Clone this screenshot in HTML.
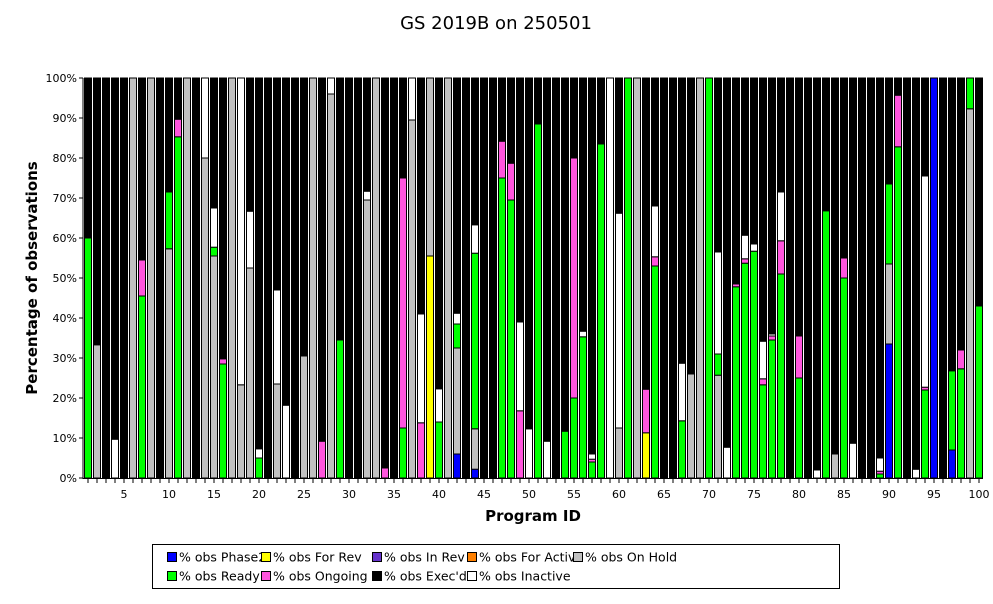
<!DOCTYPE html>
<html><head><meta charset="utf-8"><style>
body{margin:0;background:#fff;width:993px;height:600px;overflow:hidden;font-family:"DejaVu Sans","Liberation Sans",sans-serif}
</style></head><body>
<svg id="chart" width="993" height="600" xmlns="http://www.w3.org/2000/svg">
<text x="496" y="29" text-anchor="middle" font-size="18" font-family="DejaVu Sans, sans-serif">GS 2019B on 250501</text>
<g id="plot"></g>
<g id="axes"></g>
<text transform="translate(37,278) rotate(-90)" text-anchor="middle" font-size="15" font-weight="bold">Percentage of observations</text>
<text x="533" y="521" text-anchor="middle" font-size="15" font-weight="bold">Program ID</text>
<g id="legend"></g>
</svg>
<script>
// segment values (percent) per program, stacked bottom-up; Exec'd fills the remainder to 100
const programs = Array.from({length:100},(_,i)=>i+1);
const phase2 =  [0,0,0,0,0,0,0,0,0,0, 0,0,0,0,0,0,0,0,0,0, 0,0,0,0,0,0,0,0,0,0, 0,0,0,0,0,0,0,0,0,0, 0,6,0,2.2,0,0,0,0,0,0, 0,0,0,0,0,0,0,0,0,0, 0,0,0,0,0,0,0,0,0,0, 0,0,0,0,0,0,0,0,0,0, 0,0,0,0,0,0,0,0,0,33.5, 0,0,0,0,100,0,7,0,0,0];
const forRev =  [0,0,0,0,0,0,0,0,0,0, 0,0,0,0,0,0,0,0,0,0, 0,0,0,0,0,0,0,0,0,0, 0,0,0,0,0,0,0,0,55.5,0, 0,0,0,0,0,0,0,0,0,0, 0,0,0,0,0,0,0,0,0,0, 0,0,11.3,0,0,0,0,0,0,0, 0,0,0,0,0,0,0,0,0,0, 0,0,0,0,0,0,0,0,0,0, 0,0,0,0,0,0,0,0,0,0];
const inRev = new Array(100).fill(0);
const forActiv = new Array(100).fill(0);
const onHold =  [0,33.3,0,0,0,100,0,100,0,57.3, 0,100,0,80,55.5,0,100,23.3,52.5,0, 0,23.5,0,0,30.5,100,0,96,0,0, 0,69.5,100,0,0,0,89.5,0,44.5,0, 100,26.5,0,10.1,0,0,0,0,0,0, 0,0,0,0,0,0,0,0,0,12.5, 0,100,0,0,0,0,0,26,100,0, 25.7,0,0,0,0,0,0,0,0,0, 0,0,0,6,0,0,0,0,0,20, 0,0,0,0,0,0,0,0,92.3,0];
const ready =   [60,0,0,0,0,0,45.5,0,0,14.2, 85.3,0,0,0,2.2,28.5,0,0,0,5, 0,0,0,0,0,0,0,0,34.5,0, 0,0,0,0,0,12.5,0,0,0,14, 0,6,0,43.9,0,0,75,69.5,0,0, 88.5,0,0,11.7,20,35.3,4,83.5,0,0, 100,0,0,53,0,0,14.3,0,0,100, 5.3,0,47.8,53.7,56.7,23.3,34.5,51,0,25, 0,0,66.8,0,50,0,0,0,1,20, 82.8,0,0,22,0,0,19.8,27.3,7.7,43];
const ongoing = [0,0,0,0,0,0,9,0,0,0, 4.4,0,0,0,0,1.3,0,0,0,0, 0,0,0,0,0,0,9.2,0,0,0, 0,0,0,2.5,0,62.5,0,13.8,0,0, 0,0,0,0,0,0,9.2,9.2,16.8,0, 0,0,0,0,60,0,0.7,0,0,0, 0,0,10.9,2.3,0,0,0,0,0,0, 0,0,0.7,1.1,0,1.5,1,8.3,0,10.5, 0,0,0,0,5,0,0,0,0.7,0, 12.9,0,0,0.7,0,0,0,4.7,0,0];
const inactive =[0,0,0,9.7,0,0,0,0,0,0, 0,0,0,20,9.8,0,0,76.7,14.2,2.3, 0,23.5,18.2,0,0,0,0,4,0,0, 0,2.2,0,0,0,0,10.5,27.2,0,8.3, 0,2.7,0,7.1,0,0,0,0,22.2,12.3, 0,9.2,0,0,0,1.4,1.3,0,100,53.7, 0,0,0,12.7,0,0,14.4,0,0,0, 25.5,7.7,0,5.9,1.8,9.4,0.5,12.2,0,0, 0,2,0,0,0,8.7,0,0,3.3,0, 0,0,2.2,52.8,0,0,0,0,0,0];
const yTicks = [0,10,20,30,40,50,60,70,80,90,100];
const xLabels = [5,10,15,20,25,30,35,40,45,50,55,60,65,70,75,80,85,90,95,100];
const seriesNames = ["% obs Phase2","% obs For Rev","% obs In Rev","% obs For Activ","% obs On Hold","% obs Ready","% obs Ongoing","% obs Exec'd","% obs Inactive"];

const NS="http://www.w3.org/2000/svg";
const X0=84, PITCH=9, BW=8, Y0=478, Y1=78;
const yScale=v=>Y0-(Y0-Y1)*v/100;
const xScale=p=>X0+(p-1)*PITCH;
function mk(tag,attrs,parent){const e=document.createElementNS(NS,tag);for(const k in attrs)e.setAttribute(k,attrs[k]);parent.appendChild(e);return e;}
const plot=document.getElementById('plot'), axes=document.getElementById('axes'), legend=document.getElementById('legend');
const cols={phase2:"#0000ff",forRev:"#ffff00",inRev:"#6633cc",forActiv:"#ff8000",onHold:"#c0c0c0",ready:"#00ff00",ongoing:"#ff55dd",execd:"#000000",inactive:"#ffffff"};
const bg=mk('rect',{x:83,y:Y1,width:900,height:400,fill:'#fff'},plot);


programs.forEach((p,i)=>{
  const vals=[["phase2",phase2[i]],["forRev",forRev[i]],["inRev",inRev[i]],["forActiv",forActiv[i]],["onHold",onHold[i]],["ready",ready[i]],["ongoing",ongoing[i]],["inactive",inactive[i]]];
  const sumOther=vals.reduce((a,b)=>a+b[1],0)-inactive[i];
  const ex=Math.max(0,100-sumOther-inactive[i]);
  const order=[...vals.slice(0,7),["inactive",inactive[i]],["execd",ex]];
  let acc=0;
  order.forEach(([k,v])=>{
    if(v<=0)return;
    const yt=yScale(acc+v), yb=yScale(acc);
    const r=mk('rect',{x:xScale(p)+0.5,y:yt,width:BW-1,height:Math.max(0.5,yb-yt),fill:cols[k],stroke:'#000','stroke-width':1},plot);
    
    
    acc+=v;
  });
});
mk('line',{x1:83,y1:Y1,x2:83,y2:Y0+1,stroke:'#000'},axes);
mk('line',{x1:83,y1:Y0+0.5,x2:983,y2:Y0+0.5,stroke:'#000'},axes);
yTicks.forEach(t=>{
  const y=yScale(t);
  mk('line',{x1:79,y1:y,x2:83,y2:y,stroke:'#000'},axes);
  const tx=mk('text',{x:77,y:y+4,'text-anchor':'end','font-size':11},axes);
  tx.textContent=t+'%';
  
  
});
programs.forEach(p=>{const x=xScale(p)+4;mk('line',{x1:x,y1:Y0+1,x2:x,y2:Y0+5,stroke:'#000'},axes);});
xLabels.forEach(l=>{
  const tx=mk('text',{x:xScale(l)+4,y:498,'text-anchor':'middle','font-size':11},axes);
  tx.textContent=l;
  
  
});
const lb=mk('rect',{x:152.5,y:544.5,width:687,height:44,fill:'#fff',stroke:'#000'},legend);


const legCols=[cols.phase2,cols.forRev,cols.inRev,cols.forActiv,cols.onHold,cols.ready,cols.ongoing,cols.execd,cols.inactive];
const colX=[167,261,372,467,573];
seriesNames.forEach((n,i)=>{
  const cx=colX[i%5], cy=i<5?558:577;
  const g=mk('g',{},legend);
  
  
  mk('rect',{x:cx+0.5,y:cy-5.5,width:9,height:9,fill:legCols[i],stroke:'#000'},g);
  const t=mk('text',{x:cx+12,y:cy+3.5,'font-size':12.5},g);
  t.textContent=n;
});
</script>
</body></html>
